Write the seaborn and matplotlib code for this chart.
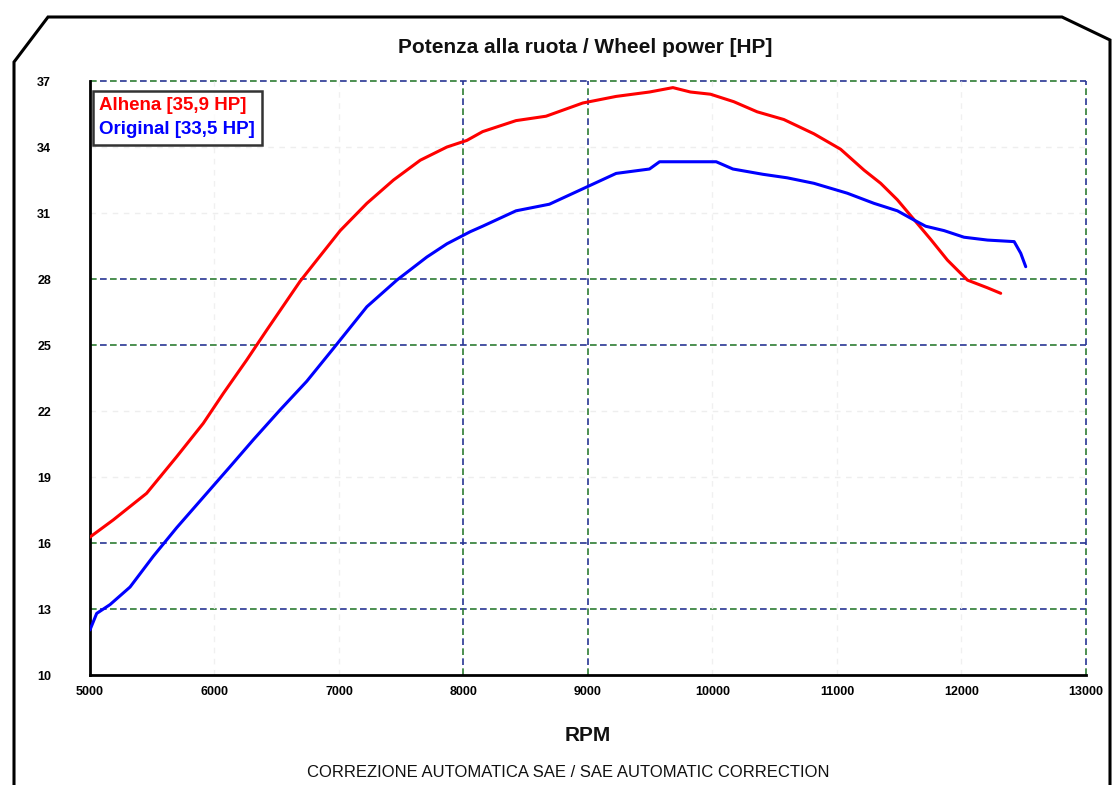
import matplotlib
matplotlib.use("Agg")
import matplotlib.pyplot as plt
import seaborn as sns
import pandas as pd
from matplotlib.lines import Line2D
from matplotlib.patches import Polygon

# ---- data ----
alhena_rpm = [5000, 5187, 5455, 5696, 5910, 6071, 6259, 6420, 6688, 6822, 7010, 7224,
              7438, 7653, 7867, 8027, 8154, 8422, 8663, 8958, 9226, 9494, 9682, 9823,
              9984, 10171, 10359, 10573, 10815, 11029, 11217, 11351, 11485, 11619,
              11753, 11887, 12048, 12209, 12315]
alhena_hp = [16.27, 17.05, 18.26, 19.92, 21.44, 22.8, 24.32, 25.68, 27.9, 28.86, 30.2, 31.44,
             32.5, 33.4, 34.0, 34.3, 34.7, 35.2, 35.4, 36.0, 36.3, 36.5, 36.7, 36.5,
             36.4, 36.06, 35.6, 35.25, 34.6, 33.9, 32.95, 32.35, 31.6, 30.7,
             29.8, 28.86, 27.95, 27.6, 27.35]

orig_rpm = [5000, 5054, 5161, 5322, 5509, 5697, 5938, 6125, 6313, 6527, 6741, 6956,
            7224, 7465, 7706, 7867, 8054, 8154, 8422, 8690, 8958, 9226, 9494, 9575,
            10030, 10164, 10405, 10600, 10815, 11083, 11297, 11485, 11619, 11712,
            11860, 12020, 12209, 12423, 12476, 12516]
orig_hp = [12.05, 12.8, 13.2, 14.0, 15.4, 16.7, 18.26, 19.47, 20.7, 22.05, 23.35, 24.85,
           26.74, 27.95, 29.0, 29.6, 30.15, 30.4, 31.1, 31.4, 32.1, 32.8, 33.0, 33.33,
           33.33, 33.0, 32.76, 32.6, 32.35, 31.9, 31.44, 31.1, 30.68, 30.4,
           30.2, 29.9, 29.77, 29.7, 29.17, 28.56]

series_names = ["Alhena [35,9 HP]", "Original [33,5 HP]"]
series_colors = ["#ff0000", "#0000ff"]

x_ticks = [5000, 6000, 7000, 8000, 9000, 10000, 11000, 12000, 13000]
y_ticks = [10, 13, 16, 19, 22, 25, 28, 31, 34, 37]
strong_y = [13, 16, 25, 28, 37]
strong_x = [8000, 9000, 13000]

title = "Potenza alla ruota / Wheel power [HP]"
x_label = "RPM"
footer = "CORREZIONE AUTOMATICA SAE / SAE AUTOMATIC CORRECTION"

# ---- build table ----
df = pd.concat([
    pd.DataFrame({"rpm": alhena_rpm, "hp": alhena_hp, "serie": series_names[0]}),
    pd.DataFrame({"rpm": orig_rpm, "hp": orig_hp, "serie": series_names[1]}),
], ignore_index=True)

sns.set_theme(style="white")
plt.rcParams["font.family"] = ["Liberation Sans", "DejaVu Sans"]

fig = plt.figure(figsize=(11.19, 7.85), dpi=100)
ax = fig.add_axes([0.0804, 0.1401, 0.8901, 0.7567])

# grid lines
for yv in y_ticks[1:]:
    if yv in strong_y:
        ax.axhline(yv, color="#2e7d32", lw=1.2, ls=(0, (4, 8)), zorder=1, clip_on=False)
        ax.axhline(yv, color="#283593", lw=1.2, ls=(6, (4, 8)), zorder=1, clip_on=False)
    else:
        ax.axhline(yv, color="#eeeeee", lw=1.0, ls=(0, (4, 4)), zorder=1)
for xv in x_ticks[1:]:
    if xv in strong_x:
        ax.axvline(xv, color="#2e7d32", lw=1.2, ls=(0, (4, 8)), zorder=1, clip_on=False)
        ax.axvline(xv, color="#283593", lw=1.2, ls=(6, (4, 8)), zorder=1, clip_on=False)
    else:
        ax.axvline(xv, color="#f0f0f0", lw=1.0, ls=(0, (4, 4)), zorder=1)

sns.lineplot(data=df, x="rpm", y="hp", hue="serie", palette=series_colors,
             hue_order=series_names, estimator=None, sort=False, lw=2.2,
             legend=False, ax=ax, zorder=3)

ax.set_xlim(5000, 13000)
ax.set_ylim(10, 37)
ax.set_xticks(x_ticks)
ax.set_xticklabels([str(v) for v in x_ticks], fontsize=9, fontweight="bold", color="black")
ax.set_yticks(y_ticks)
ax.set_yticklabels([str(v) for v in y_ticks], fontsize=9, fontweight="bold", color="black")
ax.tick_params(axis="x", length=0, pad=8)
ax.tick_params(axis="y", length=0, pad=38)
for t in ax.get_yticklabels():
    t.set_horizontalalignment("left")
ax.set_xlabel(x_label, fontsize=15, fontweight="bold", labelpad=20, color="#111111")
ax.set_ylabel("")
for s in ["top", "right"]:
    ax.spines[s].set_visible(False)
for s in ["left", "bottom"]:
    ax.spines[s].set_color("black")
    ax.spines[s].set_linewidth(2.0)

# legend
handles = [Line2D([], [], color="none") for _ in series_names]
leg = ax.legend(handles, series_names, loc="upper left", bbox_to_anchor=(-0.001, 0.99),
                handlelength=0, handletextpad=0, borderpad=0.35, labelspacing=0.35,
                borderaxespad=0.2, frameon=True, fancybox=False,
                prop={"size": 13.5, "weight": "bold"})
leg.get_frame().set_edgecolor("black")
leg.get_frame().set_linewidth(1.8)
for t, c in zip(leg.get_texts(), series_colors):
    t.set_color(c)

fig.text(0.523, 0.94, title, ha="center", va="center", fontsize=15, fontweight="bold",
         color="#111111")
fig.text(0.508, 0.016, footer, ha="center", va="center", fontsize=12, color="#111111")

# outer frame with chamfered corners (in pixels -> figure fraction)
W, H = 1119, 785
pts = [(14, 785), (14, 62), (48, 17), (1062, 17), (1110, 40), (1110, 785)]
frame = Polygon([(x / W, 1 - y / H) for x, y in pts], closed=False, fill=False,
                edgecolor="black", lw=2.2, transform=fig.transFigure)
fig.add_artist(frame)

fig.savefig("out.png", dpi=100)
